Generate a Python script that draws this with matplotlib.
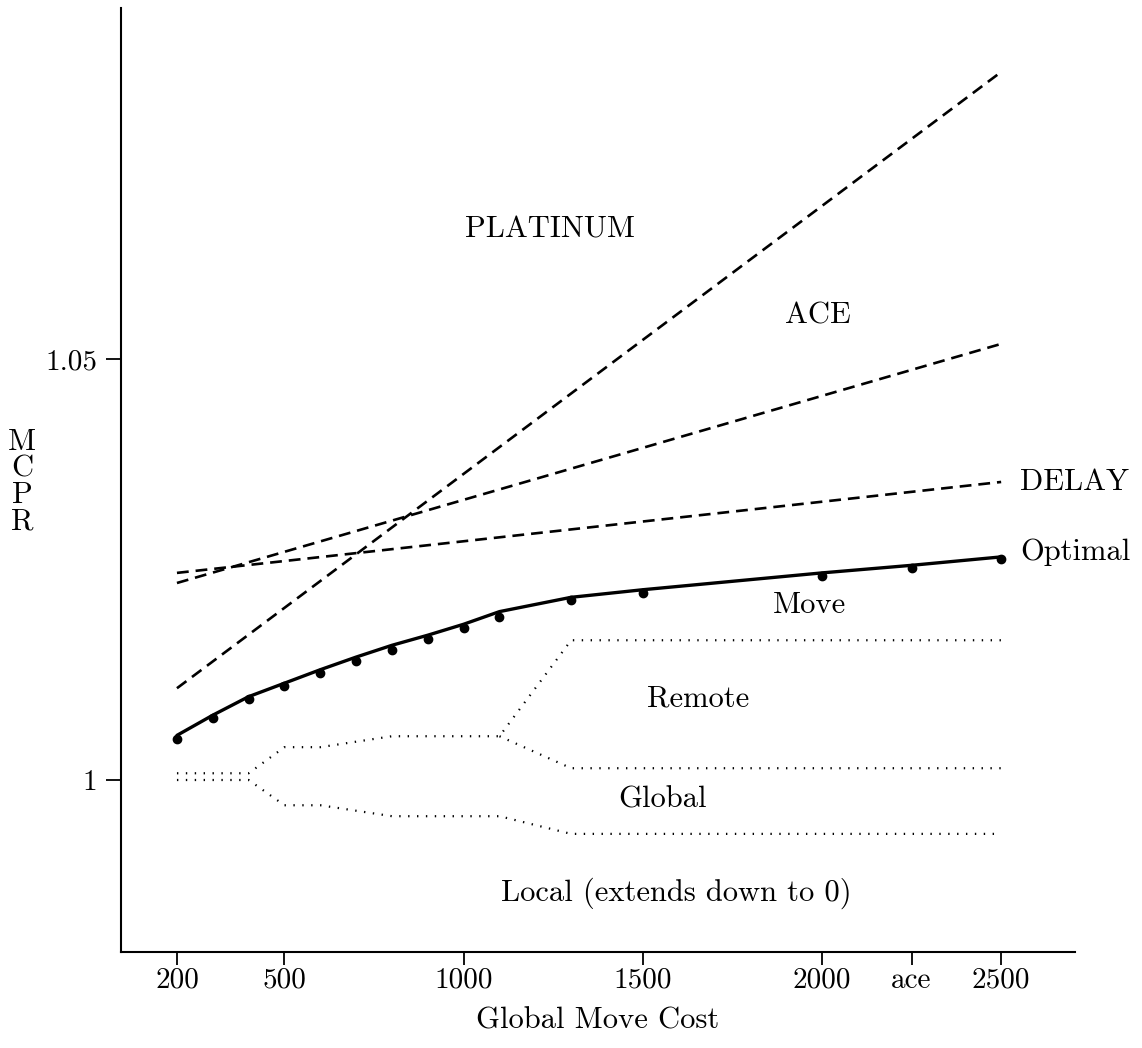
import matplotlib
matplotlib.use("Agg")
import matplotlib.pyplot as plt

plt.rcParams['font.family'] = ['cmr10', 'DejaVu Serif']
plt.rcParams['mathtext.fontset'] = 'cm'
plt.rcParams['lines.scale_dashes'] = False

# ---- data ----
x_ticks = [200, 500, 1000, 1500, 2000, 2250, 2500]
x_tick_labels = ['200', '500', '1000', '1500', '2000', 'ace', '2500']
y_ticks = [1.0, 1.05]
y_tick_labels = ['1', '1.05']

line_x = [200, 2500]
platinum_y = [1.0109, 1.0841]
ace_y = [1.0234, 1.0518]
delay_y = [1.0246, 1.0354]

opt_x = [200, 300, 400, 500, 600, 700, 800, 900, 1000, 1100, 1300, 1500, 2000, 2250, 2500]
opt_y = [1.0053, 1.0077, 1.0099, 1.0115, 1.0131, 1.0146, 1.0160, 1.0172, 1.0185,
         1.0200, 1.0217, 1.0226, 1.0246, 1.0255, 1.0265]
opt_pts = [1.0049, 1.0074, 1.0096, 1.0112, 1.0127, 1.0141, 1.0155, 1.0168, 1.0181,
           1.0194, 1.0214, 1.0222, 1.0242, 1.0252, 1.0263]

move_remote_x = [200, 400, 500, 600, 800, 1100, 1300, 2500]
move_remote_y = [1.0008, 1.0008, 1.0039, 1.0039, 1.0052, 1.0052, 1.0166, 1.0166]
remote_global_x = [1100, 1300, 2500]
remote_global_y = [1.0052, 1.0014, 1.0014]
global_local_x = [200, 400, 500, 600, 800, 1100, 1300, 2500]
global_local_y = [1.0, 1.0, 0.9970, 0.9970, 0.9957, 0.9957, 0.9936, 0.9936]

fig = plt.figure(figsize=(11.42, 10.48), dpi=100)
ax = fig.add_axes([0.106, 0.0916, 0.8353, 0.9008])

dash = (0, (8.5, 5))
dot = (0, (1.0, 5.4))
ax.plot(line_x, platinum_y, color='black', lw=1.9, linestyle=dash)
ax.plot(line_x, ace_y, color='black', lw=1.9, linestyle=dash)
ax.plot(line_x, delay_y, color='black', lw=1.9, linestyle=dash)

ax.plot(opt_x, opt_y, color='black', lw=2.4, solid_capstyle='round')
ax.plot(opt_x, opt_pts, linestyle='none', marker='o', ms=6, color='black')

for xs, ys in [(move_remote_x, move_remote_y), (remote_global_x, remote_global_y),
               (global_local_x, global_local_y)]:
    ax.plot(xs, ys, color='black', lw=1.6, linestyle=dot)

fs = 22
ax.text(1241, 1.0653, 'PLATINUM', ha='center', va='center', fontsize=fs)
ax.text(1989, 1.0551, 'ACE', ha='center', va='center', fontsize=fs)
ax.text(2553, 1.0354, 'DELAY', ha='left', va='center', fontsize=fs)
ax.text(2553, 1.0270, 'Optimal', ha='left', va='center', fontsize=fs)
ax.text(1966, 1.0208, 'Move', ha='center', va='center', fontsize=fs)
ax.text(1654, 1.0097, 'Remote', ha='center', va='center', fontsize=fs)
ax.text(1554, 0.99762, 'Global', ha='center', va='center', fontsize=fs)
ax.text(1593, 0.98658, 'Local (extends down to 0)', ha='center', va='center', fontsize=fs)

ax.set_xlim(44, 2706)
ax.set_ylim(0.97957, 1.0917)
ax.set_xticks(x_ticks)
ax.set_xticklabels(x_tick_labels, fontsize=21)
ax.set_yticks(y_ticks)
ax.set_yticklabels(y_tick_labels, fontsize=21)
ax.tick_params(axis='x', direction='out', length=9, width=1.3, pad=2)
ax.tick_params(axis='y', direction='out', length=11, width=1.3, pad=6)
for s in ['top', 'right']:
    ax.spines[s].set_visible(False)
for s in ['left', 'bottom']:
    ax.spines[s].set_linewidth(1.5)

ax.set_xlabel('Global Move Cost', fontsize=fs, labelpad=10)
fig.text(22 / 1142, 1 - 482 / 1048, 'M\nC\nP\nR', ha='center', va='center',
         fontsize=fs, linespacing=0.95)

fig.savefig('out.png', dpi=100)
